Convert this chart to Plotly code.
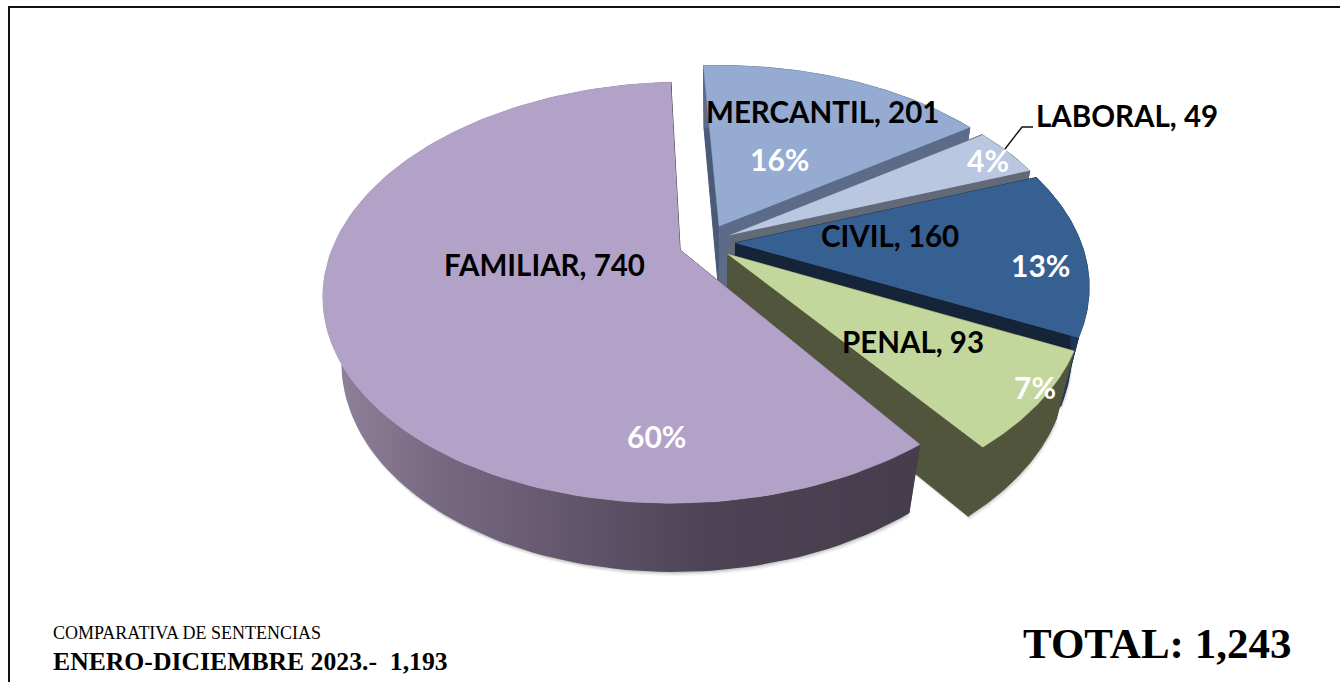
import numpy as np
import plotly.graph_objects as go

# ---- data
categories = ["MERCANTIL", "LABORAL", "CIVIL", "PENAL", "FAMILIAR"]
values = [201, 49, 160, 93, 740]
total_label = "TOTAL: 1,243"
caption_top = "COMPARATIVA DE SENTENCIAS"
caption_bottom = "ENERO-DICIEMBRE 2023.-\u00a0\u00a01,193"

# ---- styles
top_colors = ["#95abd1", "#b9c7e1", "#376092", "#c3d69b", "#b2a2c7"]
cut_colors = ["#5c6b88", "#626a78", "#16243a", "#50553b", "#463c4d"]
outer_colors = ["#5c6b88", "#626a78", "#1d3653", "#50553b", None]
family_gradient = [[0, "#93849f"], [0.2, "#766880"], [0.45, "#5f5369"], [0.65, "#4c4354"], [1, "#453d4c"]]
edge_extra_color = "#4a5a78"
# slice offsets from the pie centre (explosion), in disc units
offsets = [(0.012, 0.07), (0.045, 0.025), (0.058, -0.015), (0.035, -0.07), (-0.10, -0.05)]
start_pad = [0, 0, 0, 0, 1.0]  # degrees trimmed from each slice's leading edge
rotation = -3.0
X0, Y0, RX, RY, PERSP, DEPTH_W, DEPTH = 715.0, 240.0, 345.0, 198.0, 0.2, 0.047, 70.0

label_pos = [(822, 112), (1127, 116), (890, 236), (913, 342), (544, 265)]
pct_pos = [(779, 160), (988, 161), (1040, 266), (1035, 388), (656, 437)]


def project(u, v, z):
    w = 1 + PERSP * v + DEPTH_W * z
    return X0 + RX * u / w, Y0 + (-RY * v + DEPTH * z) / w


fig = go.Figure()


def poly(xs, ys, color=None, lw=0.5, **kw):
    fig.add_trace(go.Scatter(x=xs, y=ys, mode="lines", fill="toself", fillcolor=color,
                             line=dict(width=lw, color=color or "rgba(0,0,0,0)"),
                             hoverinfo="skip", showlegend=False, **kw))


total = sum(values)
edges = rotation + np.concatenate([[0], np.cumsum(values)]) * 360.0 / total

for i, name in enumerate(categories):
    du, dv = offsets[i]
    t = np.radians(np.linspace(edges[i] + start_pad[i], edges[i + 1], 140))
    au, av = np.sin(t) + du, np.cos(t) + dv

    # soft shadow beneath the wall
    sx, sy = project(au, av, 1.0)
    ax, ay = project(du, dv, 1.0)
    for off, alpha in ((4, 0.05), (2.5, 0.07), (1.2, 0.09)):
        poly(list(sx + off * 0.4) + [ax + off * 0.4], list(sy + off) + [ay + off],
             f"rgba(0,0,0,{alpha})", lw=0)

    tx, ty = project(au, av, 0.0)
    bx, by = sx, sy
    apx, apy = project(du, dv, 0.0)

    # cut faces
    poly([apx, tx[-1], bx[-1], ax], [apy, ty[-1], by[-1], ay], cut_colors[i], lw=1)
    poly([apx, tx[0], bx[0], ax], [apy, ty[0], by[0], ay],
         edge_extra_color if i == 0 else cut_colors[i], lw=1)

    # outer wall
    wx = list(tx) + list(bx[::-1])
    wy = list(ty) + list(by[::-1])
    if outer_colors[i] is None:
        fig.add_trace(go.Scatter(x=wx, y=wy, mode="lines", fill="toself",
                                 line=dict(width=0),
                                 fillgradient=dict(type="horizontal", colorscale=family_gradient),
                                 hoverinfo="skip", showlegend=False))
    else:
        poly(wx, wy, outer_colors[i], lw=1)

    # top face
    poly([apx] + list(tx), [apy] + list(ty), top_colors[i], name=name)

# frame and leader line
fig.add_trace(go.Scatter(x=[9, 9, 1340], y=[682, 7, 7], mode="lines",
                         line=dict(color="#111111", width=2), hoverinfo="skip", showlegend=False))
fig.add_trace(go.Scatter(x=[1005, 1022, 1033], y=[149, 127, 127], mode="lines",
                         line=dict(color="#111111", width=1.4), hoverinfo="skip", showlegend=False))

ann = []
SANS = "Lato, Carlito, 'Open Sans', sans-serif"
SERIF = "'Liberation Serif', serif"
for i, name in enumerate(categories):
    ann.append(dict(x=label_pos[i][0], y=label_pos[i][1] - 1, text=f"<b>{name}, {values[i]}</b>",
                    font=dict(family=SANS, size=29.5, color="black")))
    ann.append(dict(x=pct_pos[i][0], y=pct_pos[i][1] - 1, text=f"<b>{round(100 * values[i] / total)}%</b>",
                    font=dict(family=SANS, size=30, color="white")))
ann.append(dict(x=51, y=633, text=caption_top, xanchor="left",
                font=dict(family=SERIF, size=18, color="black")))
ann.append(dict(x=51, y=661, text=f"<b>{caption_bottom}</b>", xanchor="left",
                font=dict(family=SERIF, size=25.7, color="black")))
ann.append(dict(x=1021, y=643, text=f"<b>{total_label}</b>", xanchor="left",
                font=dict(family=SERIF, size=43, color="black")))
for a in ann:
    a.update(xref="x", yref="y", showarrow=False)
    a.setdefault("xanchor", "center")
    a["yanchor"] = "middle"

fig.update_layout(
    width=1340, height=682, margin=dict(l=0, r=0, t=0, b=0),
    paper_bgcolor="white", plot_bgcolor="white", showlegend=False, annotations=ann,
    xaxis=dict(range=[0, 1340], visible=False, fixedrange=True),
    yaxis=dict(range=[682, 0], visible=False, fixedrange=True),
)
fig.write_html("out.html", config={"displayModeBar": False},
               post_script="document.body.style.margin='0';document.documentElement.style.overflow='hidden';")
